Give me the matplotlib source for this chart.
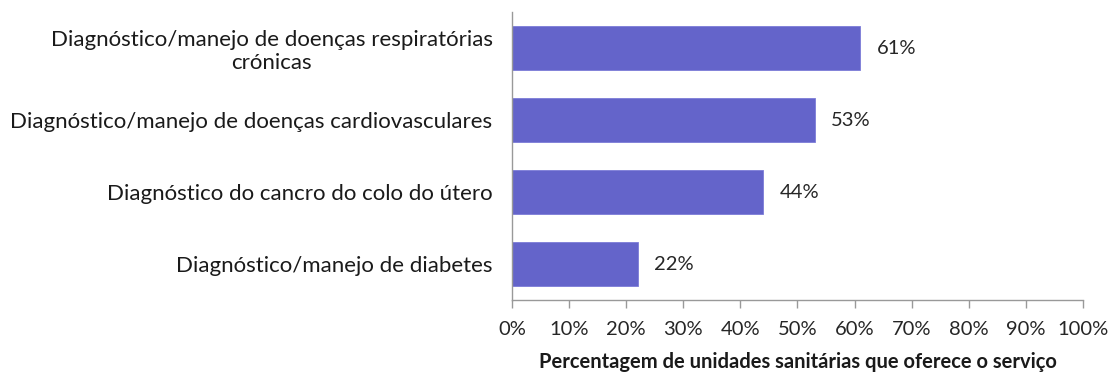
import matplotlib
matplotlib.use("Agg")
import matplotlib.pyplot as plt
from matplotlib.ticker import FixedLocator

categories = [
    "Diagnóstico/manejo de doenças respiratórias\ncrónicas",
    "Diagnóstico/manejo de doenças cardiovasculares",
    "Diagnóstico do cancro do colo do útero",
    "Diagnóstico/manejo de diabetes",
]
values = [61, 53, 44, 22]
xticks = list(range(0, 101, 10))
xlabel = "Percentagem de unidades sanitárias que oferece o serviço"

plt.rcParams["font.family"] = ["Lato", "DejaVu Sans"]

fig = plt.figure(figsize=(11.13, 3.75), dpi=100)
ax = fig.add_axes([0.46, 0.2, 0.513, 0.768])

ypos = list(range(len(categories)))
ax.barh(ypos, values, height=0.6, color="#6464CA", edgecolor="#7C7CD8", linewidth=0.6)

for y, v in zip(ypos, values):
    ax.annotate(f"{v}%", xy=(v, y), xytext=(12, 0), textcoords="offset points",
                va="center", ha="left", fontsize=14.5, color="#262626")

ax.set_xlim(0, 100)
ax.set_ylim(len(categories) - 0.5, -0.5)
ax.set_yticks(ypos)
ax.set_yticklabels(categories, fontsize=16, color="#1a1a1a", ha="right", multialignment="center")
ax.tick_params(axis="y", length=0, pad=14)

ax.xaxis.set_major_locator(FixedLocator(xticks))
ax.set_xticklabels([f"{t}%" for t in xticks], fontsize=14.5, color="#262626")
ax.tick_params(axis="x", length=6, color="#999999", width=1, pad=9)

ax.set_xlabel(xlabel, fontsize=14.5, fontweight="bold", color="#1a1a1a", labelpad=10)

for side in ["top", "right"]:
    ax.spines[side].set_visible(False)
for side in ["left", "bottom"]:
    ax.spines[side].set_color("#999999")
    ax.spines[side].set_linewidth(1)

fig.savefig("out.png", dpi=100, facecolor="white")
